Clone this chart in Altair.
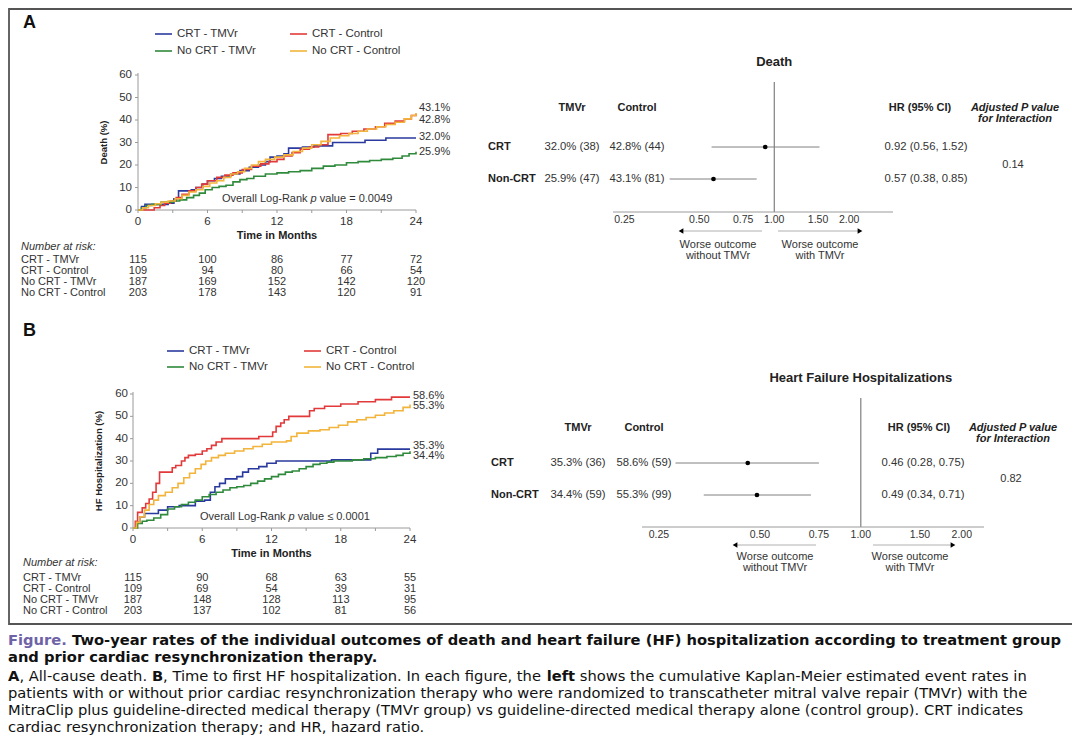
import altair as alt
import pandas as pd

# ---------------------------------------------------------------- data
series = ["CRT - TMVr", "CRT - Control", "No CRT - TMVr", "No CRT - Control"]
colors = ["#2b3a9e", "#e23a3a", "#2f8a3b", "#f2b43a"]

# Panel A: all-cause death (%)
a_blue_t = [0, 0.3, 0.6, 2.6, 3.1, 3.5, 4.6, 5.0, 5.6, 6.0, 6.6, 7.2, 8.0, 8.8, 9.6, 10.4, 11.0, 11.4, 12.0, 12.6, 13.0, 14.2, 15.2, 16.8, 19.6, 21.4, 24.0]
a_blue_v = [0, 1.5, 2.5, 3.0, 5.0, 8.5, 9.0, 10.0, 11.5, 13.0, 14.0, 15.0, 16.0, 17.5, 19.0, 20.0, 21.5, 23.5, 24.0, 25.0, 27.5, 28.0, 28.5, 30.0, 31.0, 32.0, 32.0]
a_red_t = [0, 1.4, 1.9, 2.3, 2.8, 3.3, 3.8, 4.4, 5.0, 5.5, 6.0, 6.8, 7.5, 8.2, 9.0, 9.8, 10.6, 11.3, 12.0, 12.6, 13.3, 14.0, 14.8, 15.6, 16.4, 17.5, 18.5, 19.5, 20.5, 21.3, 22.2, 23.0, 23.6, 24.0]
a_red_v = [0, 1.0, 2.0, 3.0, 4.0, 5.5, 7.0, 8.5, 10.0, 11.5, 13.0, 14.5, 15.5, 16.5, 18.0, 19.5, 20.5, 21.5, 22.5, 24.0, 25.5, 27.0, 28.0, 29.0, 33.5, 34.0, 35.0, 36.0, 37.0, 38.5, 39.5, 40.5, 42.0, 42.8]
a_green_t = [0, 0.3, 0.7, 1.2, 2.0, 3.0, 3.6, 4.2, 4.8, 5.3, 5.8, 6.4, 7.0, 7.6, 8.2, 8.8, 9.4, 10.0, 11.0, 12.0, 13.0, 14.0, 15.0, 16.0, 17.0, 18.0, 19.0, 20.0, 21.0, 22.0, 22.8, 23.4, 24.0]
a_green_v = [0, 1.0, 2.0, 2.5, 3.5, 4.0, 4.5, 5.5, 6.5, 7.5, 9.0, 10.0, 10.5, 11.0, 12.5, 13.5, 14.0, 15.0, 16.0, 16.5, 17.0, 17.5, 18.5, 19.5, 20.0, 21.0, 21.5, 22.0, 22.5, 23.0, 24.0, 25.0, 25.9]
a_orange_t = [0, 0.4, 0.9, 1.5, 2.0, 2.6, 3.2, 3.8, 4.4, 5.0, 5.6, 6.2, 6.8, 7.4, 8.0, 8.6, 9.2, 9.8, 10.4, 11.0, 11.8, 12.6, 13.4, 14.2, 15.0, 15.8, 16.6, 17.4, 18.2, 19.0, 19.8, 20.6, 21.4, 22.2, 23.0, 23.6, 24.0]
a_orange_v = [0, 1.0, 2.0, 2.8, 3.5, 4.0, 5.0, 6.5, 8.0, 9.0, 10.5, 12.0, 13.0, 14.5, 16.0, 17.0, 18.5, 20.0, 21.5, 22.5, 23.5, 24.5, 26.0, 27.5, 29.0, 30.5, 32.0, 33.0, 34.0, 35.0, 36.0, 37.0, 38.0, 39.0, 40.5, 42.0, 43.1]

# Panel B: HF hospitalization (%)
b_blue_t = [0, 0.3, 0.6, 1.0, 2.2, 3.0, 4.0, 5.4, 6.2, 6.7, 7.1, 7.5, 8.0, 9.0, 9.5, 10.0, 10.9, 11.6, 12.4, 17.2, 20.6, 21.2, 24.0]
b_blue_v = [0, 2.5, 5.0, 6.5, 8.0, 9.5, 10.0, 12.0, 12.5, 16.0, 18.5, 20.0, 22.0, 23.0, 25.0, 26.5, 27.5, 29.0, 30.0, 30.5, 33.5, 35.3, 35.3]
b_red_t = [0, 0.2, 0.4, 0.8, 1.1, 1.4, 1.7, 2.0, 2.3, 3.4, 3.7, 4.2, 4.5, 4.8, 5.4, 6.0, 6.4, 6.8, 7.2, 7.7, 10.9, 12.1, 12.4, 12.8, 13.1, 13.5, 15.3, 15.7, 16.6, 18.0, 19.5, 21.0, 22.4, 24.0]
b_red_v = [0, 3.0, 7.0, 9.0, 11.0, 13.0, 16.0, 20.0, 25.0, 27.0, 28.0, 30.0, 31.5, 32.5, 33.0, 34.5, 35.5, 37.0, 38.5, 40.0, 41.0, 43.0, 45.5, 47.0, 48.5, 50.0, 52.5, 53.5, 54.5, 55.5, 56.5, 57.5, 58.6, 58.6]
b_green_t = [0, 0.4, 0.8, 1.2, 1.8, 2.4, 3.0, 3.6, 4.2, 4.8, 5.4, 6.0, 6.6, 7.2, 7.8, 8.4, 9.0, 9.6, 10.2, 10.8, 11.4, 12.0, 12.6, 13.2, 13.8, 14.4, 15.0, 15.6, 16.2, 16.8, 17.4, 19.0, 20.0, 21.0, 22.0, 22.8, 23.4, 24.0]
b_green_v = [0, 2.0, 3.0, 3.5, 4.5, 6.0, 8.5, 9.5, 10.5, 11.5, 12.5, 14.0, 15.0, 16.0, 17.0, 18.0, 18.5, 19.0, 20.0, 21.0, 22.0, 23.0, 24.0, 25.0, 25.5, 26.5, 27.5, 28.5, 29.0, 29.5, 30.0, 30.5, 31.0, 31.5, 32.0, 32.5, 33.5, 34.4]
b_orange_t = [0, 0.3, 0.6, 1.0, 1.4, 1.8, 2.2, 2.8, 3.4, 3.9, 4.4, 4.9, 5.4, 5.9, 6.3, 6.8, 7.4, 8.0, 8.8, 9.6, 10.4, 11.2, 12.0, 13.3, 13.7, 14.2, 15.2, 16.2, 17.0, 17.8, 18.6, 19.4, 20.2, 21.0, 21.8, 22.6, 23.4, 24.0]
b_orange_v = [0, 2.5, 5.0, 8.0, 10.5, 12.5, 14.5, 16.0, 18.0, 20.0, 22.5, 24.5, 26.5, 28.5, 30.0, 31.5, 32.5, 33.5, 34.5, 35.5, 36.5, 37.5, 38.5, 39.0, 41.0, 42.5, 43.5, 44.0, 45.0, 46.0, 47.5, 48.5, 49.5, 50.5, 51.5, 52.5, 54.0, 55.3]

a_end = [32.0, 42.8, 25.9, 43.1]
b_end = [35.3, 58.6, 34.4, 55.3]

risk_times = [0, 6, 12, 18, 24]
a_risk = [[115, 100, 86, 77, 72], [109, 94, 80, 66, 54], [187, 169, 152, 142, 120], [203, 178, 143, 120, 91]]
b_risk = [[115, 90, 68, 63, 55], [109, 69, 54, 39, 31], [187, 148, 128, 113, 95], [203, 137, 102, 81, 56]]

km_xticks = [0, 3, 6, 9, 12, 15, 18, 21, 24]
km_xlabels = [0, 6, 12, 18, 24]
km_yticks = [0, 10, 20, 30, 40, 50, 60]

forest_rows = ["CRT", "Non-CRT"]
forest_ticks = [0.25, 0.50, 0.75, 1.00, 1.50, 2.00]
a_hr = [0.92, 0.57]
a_lo = [0.56, 0.38]
a_hi = [1.52, 0.85]
a_tmvr = ["32.0% (38)", "25.9% (47)"]
a_ctrl = ["42.8% (44)", "43.1% (81)"]
a_p = "0.14"
b_hr = [0.46, 0.49]
b_lo = [0.28, 0.34]
b_hi = [0.75, 0.71]
b_tmvr = ["35.3% (36)", "34.4% (59)"]
b_ctrl = ["58.6% (59)", "55.3% (99)"]
b_p = "0.82"

# ---------------------------------------------------------------- helpers
OX, OY = 8, 8
def PX(v): return v - OX
def PY(v): return v - OY
def vx(v): return alt.value(PX(v))
def vy(v): return alt.value(PY(v))

FONT = "Liberation Sans"
CAPFONT = "DejaVu Sans"
INK = "#222222"
AXIS = "#9a9a9a"
ONE = pd.DataFrame({"k": [0]})
layers = []


def text(s, x, y, size=11, weight="normal", style="normal", align="left",
         color=INK, font=FONT, angle=0):
    kw = dict(text=s, fontSize=size, fontWeight=weight, fontStyle=style,
              align=align, baseline="middle", color=color, font=font)
    if angle:
        kw["angle"] = angle
    layers.append(alt.Chart(ONE).mark_text(**kw).encode(x=vx(x), y=vy(y)))


def hrule(x1, x2, y, color=AXIS, width=1.0):
    layers.append(alt.Chart(ONE).mark_rule(color=color, strokeWidth=width).encode(
        x=vx(x1), x2=vx(x2), y=vy(y)))


def vrule(x, y1, y2, color=AXIS, width=1.0):
    layers.append(alt.Chart(ONE).mark_rule(color=color, strokeWidth=width).encode(
        x=vx(x), y=vy(y1), y2=vy(y2)))


def km_panel(curves, ends, end_dy, risk, x0, x1, y0, y60, letter, letter_y,
             leg_y, leg_x, ytitle, ytitle_x, xlab_y, xtitle_y, lr_x, lr_y, lr_rel,
             risk_head_y, risk_first_y, risk_x, risk_dy, ylab_dx):
    xs = alt.Scale(domain=[0, 24], range=[PX(x0), PX(x1)], nice=False, zero=False)
    ys = alt.Scale(domain=[0, 60], range=[PY(y0), PY(y60)], nice=False, zero=False)
    text(letter, 23, letter_y, size=18, weight="bold", color="#111111")
    # legend
    for i, name in enumerate(series):
        lx = leg_x[i % 2]
        ly = leg_y[i // 2]
        hrule(lx, lx + 17, ly, color=colors[i], width=1.6)
        text(name, lx + 22, ly, size=11.5, color="#333333")
    # axes
    vrule(x0, y60 - 2, y0)
    hrule(x0, x1, y0)
    yt = pd.DataFrame({"v": km_yticks})
    layers.append(alt.Chart(yt).mark_rule(color=AXIS).encode(
        y=alt.Y("v:Q", scale=ys, axis=None), x=vx(x0 - 3), x2=vx(x0)))
    layers.append(alt.Chart(yt).mark_text(align="right", baseline="middle", fontSize=11.5,
                                          font=FONT, color="#333333").encode(
        y=alt.Y("v:Q", scale=ys, axis=None), x=vx(x0 - ylab_dx), text="v:Q"))
    xt = pd.DataFrame({"t": km_xticks})
    layers.append(alt.Chart(xt).mark_rule(color=AXIS).encode(
        x=alt.X("t:Q", scale=xs, axis=None), y=vy(y0), y2=vy(y0 + 3)))
    xl = pd.DataFrame({"t": km_xlabels})
    layers.append(alt.Chart(xl).mark_text(align="center", baseline="middle", fontSize=11.5,
                                          font=FONT, color="#333333").encode(
        x=alt.X("t:Q", scale=xs, axis=None), y=vy(xlab_y), text="t:Q"))
    text("Time in Months", (x0 + x1) / 2, xtitle_y, size=11, weight="bold", align="center")
    text(ytitle, ytitle_x, (y0 + y60) / 2, size=9.5, weight="bold", align="center", angle=270)
    # curves
    rows = []
    for name, (ts, vs) in zip(series, curves):
        for t, v in zip(ts, vs):
            rows.append({"s": name, "t": t, "v": v})
    df = pd.DataFrame(rows)
    layers.append(alt.Chart(df).mark_line(interpolate="step-after", strokeWidth=1.6).encode(
        x=alt.X("t:Q", scale=xs, axis=None),
        y=alt.Y("v:Q", scale=ys, axis=None),
        color=alt.Color("s:N", scale=alt.Scale(domain=series, range=colors), legend=None)))
    # end labels
    for v, dy in zip(ends, end_dy):
        d = pd.DataFrame({"t": [24], "v": [v], "lab": [f"{v:.1f}%"]})
        layers.append(alt.Chart(d).mark_text(align="left", baseline="middle", fontSize=11,
                                             font=FONT, color="#333333", dx=3, dy=dy).encode(
            x=alt.X("t:Q", scale=xs, axis=None), y=alt.Y("v:Q", scale=ys, axis=None),
            text="lab:N"))
    # log-rank
    text("Overall Log-Rank", lr_x, lr_y, size=11, color="#333333")
    text("p", lr_x + 88.6, lr_y, size=11, style="italic", color="#333333")
    text(lr_rel, lr_x + 97.8, lr_y, size=11, color="#333333")
    # number at risk
    text("Number at risk:", risk_x, risk_head_y, size=11, style="italic", color="#333333")
    for i, name in enumerate(series):
        ry = risk_first_y + risk_dy * i
        text(name, risk_x, ry, size=11, color="#333333")
        d = pd.DataFrame({"t": risk_times, "n": risk[i]})
        layers.append(alt.Chart(d).mark_text(align="center", baseline="middle", fontSize=11,
                                             font=FONT, color="#333333").encode(
            x=alt.X("t:Q", scale=xs, axis=None), y=vy(ry), text="n:Q"))


def forest_panel(title, title_y, hr, lo, hi, tmvr, ctrl, pval, dom, rng, row_y,
                 line_top, axis_y, tick_y, head_y, lab_x, col_tmvr, col_ctrl, col_hr_head,
                 col_hr, col_p, p_y, arrows, worse_y, worse_x):
    fx = alt.Scale(type="log", domain=dom, range=[PX(rng[0]), PX(rng[1])], nice=False)
    fy = alt.Scale(type="point", domain=forest_rows, range=[PY(row_y[0]), PY(row_y[1])], padding=0)
    # reference line at HR = 1
    ref = pd.DataFrame({"h": [1.0]})
    layers.append(alt.Chart(ref).mark_rule(color="#666666", strokeWidth=1).encode(
        x=alt.X("h:Q", scale=fx, axis=None), y=vy(line_top), y2=vy(axis_y)))
    # title, centred over the reference line
    layers.append(alt.Chart(ref).mark_text(text=title, fontSize=13, fontWeight="bold", font=FONT,
                                           color=INK, align="center", baseline="middle").encode(
        x=alt.X("h:Q", scale=fx, axis=None), y=vy(title_y)))
    # axis
    hrule(rng[0], rng[1], axis_y, color=AXIS)
    td = pd.DataFrame({"v": forest_ticks})
    layers.append(alt.Chart(td).mark_text(align="center", baseline="middle", fontSize=10.5,
                                          font=FONT, color="#333333").encode(
        x=alt.X("v:Q", scale=fx, axis=None), y=vy(tick_y), text=alt.Text("v:Q", format=".2f")))
    # headers
    text("TMVr", col_tmvr, head_y, size=11, weight="bold", align="center")
    text("Control", col_ctrl, head_y, size=11, weight="bold", align="center")
    text("HR (95% CI)", col_hr_head, head_y, size=11, weight="bold", align="center")
    text("Adjusted P value", col_p, head_y, size=11, weight="bold", style="italic", align="center")
    text("for Interaction", col_p, head_y + 11, size=11, weight="bold", style="italic", align="center")
    text(pval, col_p - 2, p_y, size=11, align="center", color="#333333")
    # rows
    d = pd.DataFrame({
        "row": forest_rows, "hr": hr, "lo": lo, "hi": hi, "tmvr": tmvr, "ctrl": ctrl,
        "hrtxt": [f"{h:.2f} ({l:.2f}, {u:.2f})" for h, l, u in zip(hr, lo, hi)],
    })
    yenc = alt.Y("row:N", scale=fy, axis=None)
    base = alt.Chart(d)
    layers.append(base.mark_text(align="left", baseline="middle", fontSize=11, fontWeight="bold",
                                 font=FONT, color=INK).encode(y=yenc, x=vx(lab_x), text="row:N"))
    layers.append(base.mark_text(align="center", baseline="middle", fontSize=11.3, font=FONT,
                                 color="#333333").encode(y=yenc, x=vx(col_tmvr), text="tmvr:N"))
    layers.append(base.mark_text(align="center", baseline="middle", fontSize=11.3, font=FONT,
                                 color="#333333").encode(y=yenc, x=vx(col_ctrl), text="ctrl:N"))
    layers.append(base.mark_text(align="center", baseline="middle", fontSize=11.3, font=FONT,
                                 color="#333333").encode(y=yenc, x=vx(col_hr), text="hrtxt:N"))
    layers.append(base.mark_rule(color="#808080", strokeWidth=1).encode(
        y=yenc, x=alt.X("lo:Q", scale=fx, axis=None), x2="hi:Q"))
    layers.append(base.mark_circle(color="#000000", size=22, opacity=1).encode(
        y=yenc, x=alt.X("hr:Q", scale=fx, axis=None)))
    # arrows
    (l_from, l_to), (r_from, r_to), ay = arrows
    hrule(l_to + 3, l_from, ay, color="#b0b0b0", width=1)
    hrule(r_from, r_to - 3, ay, color="#b0b0b0", width=1)
    layers.append(alt.Chart(ONE).mark_point(shape="triangle-left", filled=True, color="#000000",
                                            size=30, opacity=1).encode(x=vx(l_to + 3), y=vy(ay)))
    layers.append(alt.Chart(ONE).mark_point(shape="triangle-right", filled=True, color="#000000",
                                            size=30, opacity=1).encode(x=vx(r_to - 3), y=vy(ay)))
    text("Worse outcome", worse_x[0], worse_y, size=11, align="center", color="#333333")
    text("without TMVr", worse_x[0], worse_y + 11, size=11, align="center", color="#333333")
    text("Worse outcome", worse_x[1], worse_y, size=11, align="center", color="#333333")
    text("with TMVr", worse_x[1], worse_y + 11, size=11, align="center", color="#333333")


# ---------------------------------------------------------------- frame
layers.append(alt.Chart(ONE).mark_rect(fillOpacity=0, stroke="#555555", strokeWidth=1.8).encode(
    x=vx(9), x2=vx(1073), y=vy(9), y2=vy(624)))

# ---------------------------------------------------------------- panel A
km_panel(
    curves=[(a_blue_t, a_blue_v), (a_red_t, a_red_v), (a_green_t, a_green_v), (a_orange_t, a_orange_v)],
    ends=a_end, end_dy=[-1, 6, 0, -5], risk=a_risk,
    x0=138, x1=416, y0=210, y60=75, letter="A", letter_y=23,
    leg_y=[34, 51], leg_x=[155, 290], ytitle="Death (%)", ytitle_x=104,
    xlab_y=222, xtitle_y=236, lr_x=222, lr_y=199, lr_rel="value = 0.0049",
    risk_head_y=247, risk_first_y=260, risk_x=21, risk_dy=11, ylab_dx=6)

forest_panel(
    title="Death", title_y=62, hr=a_hr, lo=a_lo, hi=a_hi, tmvr=a_tmvr, ctrl=a_ctrl, pval=a_p,
    dom=[0.225, 3.0], rng=[613, 893], row_y=[147, 179], line_top=82, axis_y=212, tick_y=220,
    head_y=108, lab_x=488, col_tmvr=572, col_ctrl=637, col_hr_head=920, col_hr=926,
    col_p=1015, p_y=165, arrows=((762, 678), (778, 863), 231), worse_y=245, worse_x=(718, 820))

# ---------------------------------------------------------------- panel B
km_panel(
    curves=[(b_blue_t, b_blue_v), (b_red_t, b_red_v), (b_green_t, b_green_v), (b_orange_t, b_orange_v)],
    ends=b_end, end_dy=[-3, -1, 5, 1.5], risk=b_risk,
    x0=133, x1=410, y0=528, y60=394, letter="B", letter_y=331,
    leg_y=[351, 367], leg_x=[167, 304], ytitle="HF Hospitalization (%)", ytitle_x=99,
    xlab_y=540, xtitle_y=554, lr_x=200, lr_y=517, lr_rel="value \u2264 0.0001",
    risk_head_y=563, risk_first_y=578, risk_x=23, risk_dy=11, ylab_dx=5)

forest_panel(
    title="Heart Failure Hospitalizations", title_y=378, hr=b_hr, lo=b_lo, hi=b_hi, tmvr=b_tmvr,
    ctrl=b_ctrl, pval=b_p, dom=[0.2225, 2.33], rng=[642, 984], row_y=[463, 495], line_top=398,
    axis_y=527, tick_y=535, head_y=428, lab_x=491, col_tmvr=578, col_ctrl=644, col_hr_head=919,
    col_hr=923, col_p=1013, p_y=479, arrows=((816, 732), (873, 956), 545), worse_y=557,
    worse_x=(775, 910))

# ---------------------------------------------------------------- caption
CS = 14.7
PURPLE = "#6f63a8"
BLACK = "#111111"
L1, L2, L3, L4, L5, L6 = 641, 658, 677, 694, 711, 727.5
text("Figure.", 8, L1, size=CS, weight="bold", color=PURPLE, font=CAPFONT)
text("Two-year rates of the individual outcomes of death and heart failure (HF) hospitalization according to treatment group",
     72, L1, size=CS, weight="bold", color=BLACK, font=CAPFONT)
text("and prior cardiac resynchronization therapy.", 8, L2, size=CS, weight="bold", color=BLACK, font=CAPFONT)
text("A", 8, L3, size=CS, weight="bold", color=BLACK, font=CAPFONT)
text(", All-cause death.", 19.4, L3, size=CS, color=BLACK, font=CAPFONT)
text("B", 151.9, L3, size=CS, weight="bold", color=BLACK, font=CAPFONT)
text(", Time to first HF hospitalization. In each figure, the", 163.1, L3, size=CS, color=BLACK, font=CAPFONT)
text("left", 546.7, L3, size=CS, weight="bold", color=BLACK, font=CAPFONT)
text("shows the cumulative Kaplan-Meier estimated event rates in", 579.8, L3, size=CS, color=BLACK, font=CAPFONT)
text("patients with or without prior cardiac resynchronization therapy who were randomized to transcatheter mitral valve repair (TMVr) with the",
     8, L4, size=CS, color=BLACK, font=CAPFONT)
text("MitraClip plus guideline-directed medical therapy (TMVr group) vs guideline-directed medical therapy alone (control group). CRT indicates",
     8, L5, size=CS, color=BLACK, font=CAPFONT)
text("cardiac resynchronization therapy; and HR, hazard ratio.", 8, L6, size=CS, color=BLACK, font=CAPFONT)

chart = alt.layer(*layers).resolve_scale(
    x="independent", y="independent", color="independent"
).properties(
    width=1064, height=728, autosize=alt.AutoSizeParams(type="none"), padding=0, background="white"
).configure_view(strokeWidth=0)

chart.save("out.html", embed_options={"renderer": "svg", "actions": False})
